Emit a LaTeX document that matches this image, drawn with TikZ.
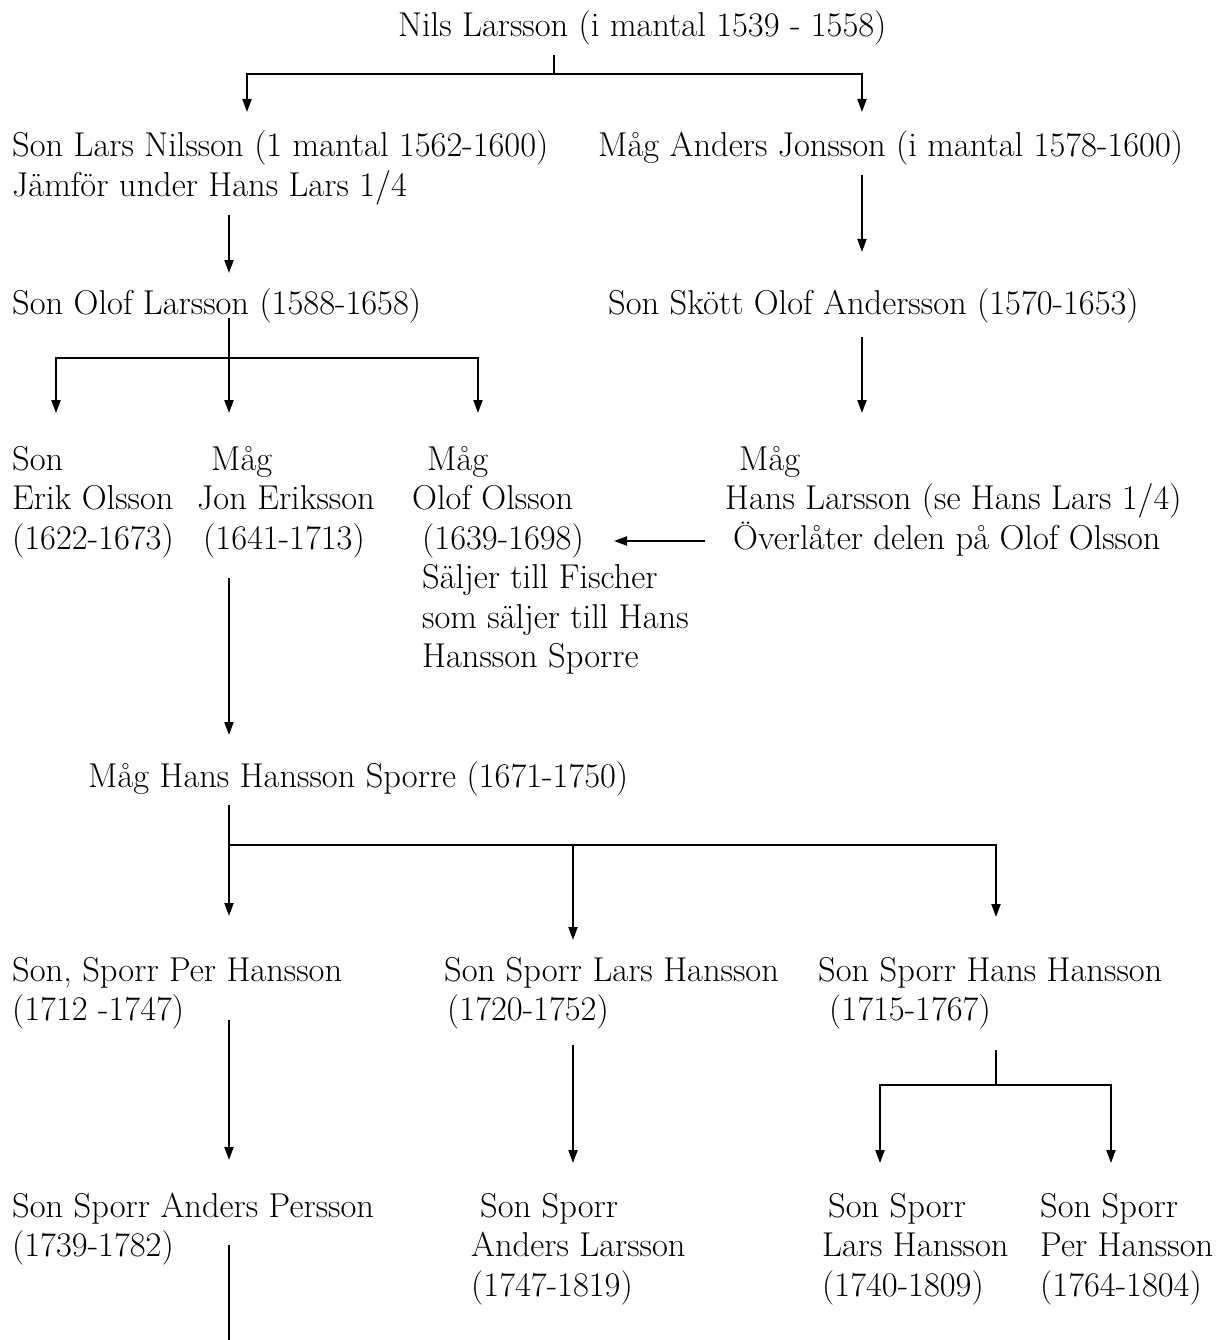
\documentclass[tikz,border=0pt]{standalone}
\usepackage{tikz}
\usetikzlibrary{arrows.meta}

\tikzset{
    person/.style={anchor=base west, inner sep=0pt, align=left,
        font=\fontsize{34.5}{39.5}\selectfont},
    line/.style={line width=2pt},
    arr/.style={line width=2pt, -{Triangle[length=13pt,width=9pt]}}
}

\begin{document}
\begin{tikzpicture}[x=1pt,y=-1pt]
    \useasboundingbox (0,0) rectangle (1227,1340);

    % people (base = baseline of the last line)
    \node[person] (nils) at (398,37) {Nils Larsson (i mantal 1539 - 1558)};
    \node[person] (lars) at (12,196.5) {Son Lars Nilsson (1 mantal 1562-1600)\\J\"amf\"or under Hans Lars 1/4};
    \node[person] (jonsson) at (598,157) {M\aa g Anders Jonsson (i mantal 1578-1600)};
    \node[person] (olof) at (12,314) {Son Olof Larsson (1588-1658)};
    \node[person] (skott) at (608,314) {Son Sk\"ott Olof Andersson (1570-1653)};
    \node[person] (erik) at (12,549) {Son\\Erik Olsson\\(1622-1673)};
    \node[person] (jon) at (197,549) {\hspace*{14pt}M\aa g\\Jon Eriksson\\\hspace*{6pt}(1641-1713)};
    \node[person] (olsson) at (412,667.5) {\hspace*{15pt}M\aa g\\Olof Olsson\\\hspace*{10pt}(1639-1698)\\\hspace*{10pt}S\"aljer till Fischer\\\hspace*{10pt}som s\"aljer till Hans\\\hspace*{10pt}Hansson Sporre};
    \node[person] (hansl) at (725,549) {\hspace*{14pt}M\aa g\\Hans Larsson (se Hans Lars 1/4)\\\hspace*{8pt}\"Overl\aa ter delen p\aa{} Olof Olsson};
    \node[person] (sporre) at (88,787) {M\aa g Hans Hansson Sporre (1671-1750)};
    \node[person] (per) at (12,1020.5) {Son, Sporr Per Hansson\\(1712 -1747)};
    \node[person] (larsh) at (444,1020.5) {Son Sporr Lars Hansson\\\hspace*{3pt}(1720-1752)};
    \node[person] (hansh) at (818,1020.5) {Son Sporr Hans Hansson\\\hspace*{11pt}(1715-1767)};
    \node[person] (anders) at (12,1256.5) {Son Sporr Anders Persson\\(1739-1782)};
    \node[person] (andersl) at (471,1296) {\hspace*{9pt}Son Sporr\\Anders Larsson\\(1747-1819)};
    \node[person] (larsh2) at (822,1296) {\hspace*{6pt}Son Sporr\\Lars Hansson\\(1740-1809)};
    \node[person] (perh2) at (1040,1296) {Son Sporr\\Per Hansson\\(1764-1804)};

    % junctions and arrow ends
    \foreach \n/\x/\y in {
        nilsT/554/55, nilsJ/554/74, larsIn/247/112, jonssonIn/862/112,
        jonssonOut/862/175, skottIn/862/252, larsOut/229/215, olofIn/229/273,
        skottOut/862/337, hanslIn/862/413,
        olofOut/229/318, olofJ/229/358, erikIn/56/413, jonIn/229/413, olssonIn/478/413,
        hanslOut/705/541, olssonArr/614/541,
        jonOut/229/578, sporreIn/229/735,
        sporreOut/229/805, sporreJ/229/845, perIn/229/916, larshIn/573/940, hanshIn/996/917,
        perOut/229/1020, andersIn/229/1160, larshOut/573/1045, anderslIn/573/1163,
        hanshOut/996/1050, hanshJ/996/1085, larsh2In/880/1163, perh2In/1111/1163,
        andersOut/229/1245, andersEnd/229/1340}
        \coordinate (\n) at (\x,\y);

    % connectors
    \draw[line] (nilsT) -- (nilsJ);
    \draw[arr] (nilsJ) -| (larsIn);
    \draw[arr] (nilsJ) -| (jonssonIn);
    \draw[arr] (jonssonOut) -- (skottIn);
    \draw[arr] (larsOut) -- (olofIn);
    \draw[arr] (skottOut) -- (hanslIn);
    \draw[arr] (olofOut) -- (jonIn);
    \draw[arr] (olofJ) -| (erikIn);
    \draw[arr] (olofJ) -| (olssonIn);
    \draw[arr] (hanslOut) -- (olssonArr);
    \draw[arr] (jonOut) -- (sporreIn);
    \draw[arr] (sporreOut) -- (perIn);
    \draw[arr] (sporreJ) -| (larshIn);
    \draw[arr] (sporreJ) -| (hanshIn);
    \draw[arr] (perOut) -- (andersIn);
    \draw[arr] (larshOut) -- (anderslIn);
    \draw[line] (hanshOut) -- (hanshJ);
    \draw[arr] (hanshJ) -| (larsh2In);
    \draw[arr] (hanshJ) -| (perh2In);
    \draw[line] (andersOut) -- (andersEnd);
\end{tikzpicture}
\end{document}
